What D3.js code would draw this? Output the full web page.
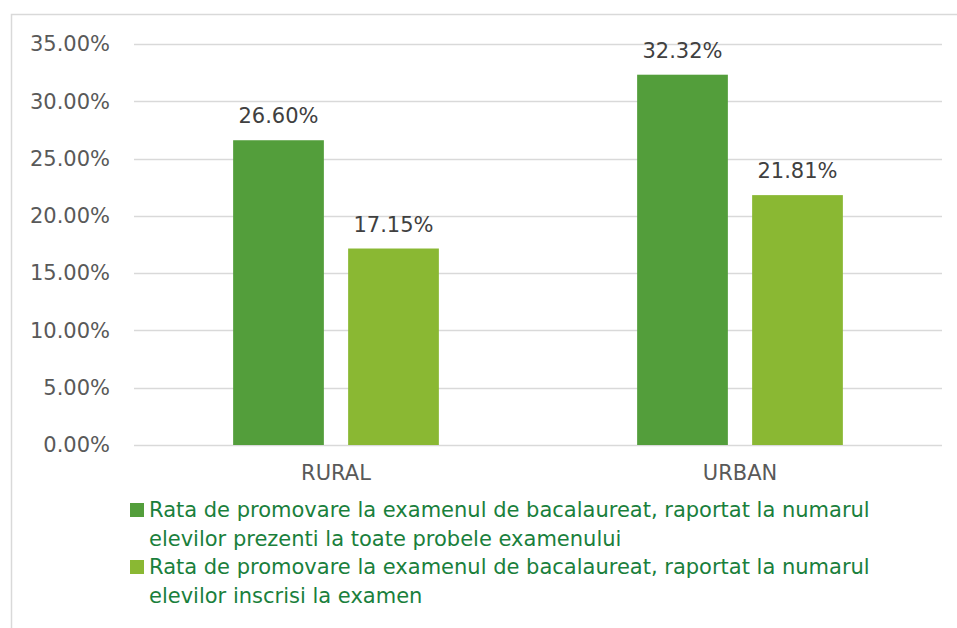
<!DOCTYPE html>
<html>
<head>
<meta charset="utf-8">
<script src="https://cdn.jsdelivr.net/npm/d3@7"></script>
<style>
  html, body { margin: 0; padding: 0; background: #fff; }
  svg { display: block; }
  text { font-family: "DejaVu Sans", Verdana, sans-serif; }
</style>
</head>
<body>
<svg id="chart" width="957" height="628"></svg>
<script>
const categories = ["RURAL", "URBAN"];
const seriesNames = [
  "Rata de promovare la examenul de bacalaureat, raportat la numarul elevilor prezenti la toate probele examenului",
  "Rata de promovare la examenul de bacalaureat, raportat la numarul elevilor inscrisi la examen"
];
const legendLines = [
  ["Rata de promovare la examenul de bacalaureat, raportat la numarul", "elevilor prezenti la toate probele examenului"],
  ["Rata de promovare la examenul de bacalaureat, raportat la numarul", "elevilor inscrisi la examen"]
];
const presentValues = [26.60, 32.32];
const enrolledValues = [17.15, 21.81];
const yTicks = [0, 5, 10, 15, 20, 25, 30, 35];
const colors = ["#539e3b", "#8ab833"];

const svg = d3.select("#chart");
const plot = { left: 134, right: 942, top: 44, bottom: 445 };

// chart area border
svg.append("rect")
  .attr("x", 11.5).attr("y", 14.5)
  .attr("width", 1000).attr("height", 1000)
  .attr("fill", "none").attr("stroke", "#d9d9d9").attr("stroke-width", 1.5);

const y = d3.scaleLinear().domain([0, 35]).range([plot.bottom, plot.top]);
const x0 = d3.scaleBand().domain(categories).range([plot.left, plot.right]).padding(0);
const x1 = d3.scaleBand().domain([0, 1]).range([0, x0.bandwidth()])
  .paddingInner(0.211).paddingOuter(0.862);

// gridlines
svg.append("g").selectAll("line").data(yTicks).join("line")
  .attr("x1", plot.left).attr("x2", plot.right)
  .attr("y1", d => Math.round(y(d)) + 0.5).attr("y2", d => Math.round(y(d)) + 0.5)
  .attr("stroke", "#d9d9d9").attr("stroke-width", 1.5);

// y axis labels
const yAxis = d3.axisLeft(y).tickValues(yTicks).tickSize(0).tickPadding(0)
  .tickFormat(d => d3.format(".2f")(d) + "%");
const yg = svg.append("g").attr("transform", `translate(110,0)`).call(yAxis);
yg.select(".domain").remove();
yg.selectAll("text").attr("fill", "#595959").style("font-size", "21px")
  .style("font-family", "'DejaVu Sans', Verdana, sans-serif");

// x axis labels
const xAxis = d3.axisBottom(x0).tickSize(0).tickPadding(0);
const xg = svg.append("g").attr("transform", `translate(0,${plot.bottom + 20})`).call(xAxis);
xg.select(".domain").remove();
xg.selectAll("text").attr("fill", "#595959").style("font-size", "21px")
  .style("font-family", "'DejaVu Sans', Verdana, sans-serif");

const data = categories.map((c, i) => ({ cat: c, vals: [presentValues[i], enrolledValues[i]] }));

const groups = svg.append("g").selectAll("g").data(data).join("g")
  .attr("transform", d => `translate(${x0(d.cat)},0)`);

groups.selectAll("rect").data(d => d.vals.map((v, j) => ({ v, j }))).join("rect")
  .attr("x", d => x1(d.j)).attr("width", x1.bandwidth())
  .attr("y", d => y(d.v)).attr("height", d => y(0) - y(d.v))
  .attr("fill", d => colors[d.j]);

groups.selectAll("text.lbl").data(d => d.vals.map((v, j) => ({ v, j }))).join("text")
  .attr("class", "lbl")
  .attr("x", d => x1(d.j) + x1.bandwidth() / 2)
  .attr("y", d => y(d.v) - 17)
  .attr("text-anchor", "middle")
  .attr("fill", "#404040").style("font-size", "21px")
  .text(d => d3.format(".2f")(d.v) + "%");

// legend
const legend = svg.append("g");
const itemTop = [517, 574];
legendLines.forEach((lines, i) => {
  const g = legend.append("g");
  g.append("rect").attr("x", 130).attr("y", itemTop[i] - 14).attr("width", 14).attr("height", 14)
    .attr("fill", colors[i]);
  lines.forEach((t, k) => {
    g.append("text").attr("x", 149).attr("y", itemTop[i] + k * 28.5)
      .attr("fill", "#1a7f3c").style("font-size", "21px").text(t);
  });
});
</script>
</body>
</html>
